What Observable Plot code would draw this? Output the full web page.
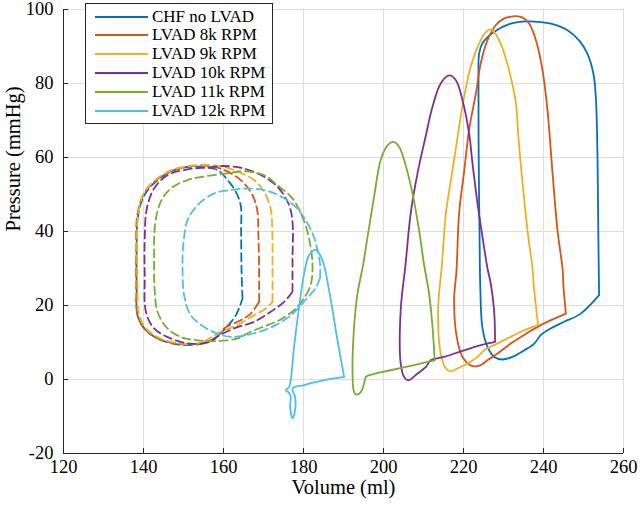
<!DOCTYPE html>
<html><head><meta charset="utf-8">
<script src="https://cdn.jsdelivr.net/npm/d3@7"></script>
<script src="https://cdn.jsdelivr.net/npm/@observablehq/plot@0.6"></script>
<style>
body{margin:0;background:#fff;}
#wrap{position:relative;width:640px;height:509px;font-family:'Liberation Serif','DejaVu Serif',serif;}
#legend{position:absolute;left:85px;top:3px;width:188px;height:121px;border:1px solid #262626;background:#fff;box-sizing:border-box;font-family:'Liberation Serif','DejaVu Serif',serif;}
.row{position:absolute;left:0;height:19px;display:flex;align-items:center;font-size:17px;color:#000;white-space:nowrap}
.sw{width:53px;height:0;border-top:2px solid;margin-left:9px;margin-right:4px}
</style></head><body><div id="wrap"></div>
<script>
// Series names and colours
const seriesNames = ["CHF no LVAD","LVAD 8k RPM","LVAD 9k RPM","LVAD 10k RPM","LVAD 11k RPM","LVAD 12k RPM"];
const seriesColors = ["#0072BD","#D95319","#EDB120","#7E2F8E","#77AC30","#4DBEEE"];
const xTicks = [120,140,160,180,200,220,240,260];
const yTicks = [-20,0,20,40,60,80,100];

// Solid loops: [Volume ml, Pressure mmHg]
const solidChf = [[253.9,22.8],[253.7,40],[253.5,60],[253.1,76],[252.5,82.5],[251,88],[249,91.5],[246,94.4],[242.5,96],[239.3,96.6],[236,96.8],[231.8,96.2],[227.6,93.9],[224.7,90.8],[223.9,88.1],[223.75,80],[223.8,60],[224,40],[224.2,25],[224.7,14.2],[226,8.8],[227.7,6.1],[229.75,5.4],[232.2,6.1],[235.2,7.9],[237.7,9.7],[239.3,12],[241.8,13.8],[245.2,15.6],[249.3,17.8],[253.9,22.8]];
const solid8k = [[245.6,17.8],[245,25],[244.75,30],[243.5,40.3],[242.2,56.6],[241.6,65],[241,72.8],[239.75,83.6],[238.1,91.7],[236.4,96.2],[234.8,97.8],[233.1,98.2],[231.5,98],[230.2,97.6],[228.1,95.8],[226,91.7],[224.3,85.4],[223.1,77.3],[221.8,70.1],[221.2,66],[220.2,56.6],[218.9,44.9],[218.25,29.5],[217.65,21.4],[218.3,11.5],[219.75,6.1],[222.25,3.6],[224.3,3.9],[226,5.2],[228.5,7],[231.8,9.7],[235.15,12],[239.3,14.7],[245.6,17.8]];
const solid9k = [[238.65,14.7],[237.6,25],[237.25,30],[236,40.3],[234.3,58.4],[233.7,66],[233.1,74.6],[231.4,83.6],[229.3,90.8],[227.65,93.9],[226.8,94.6],[225.6,93.9],[223.9,90.8],[221.8,84.5],[220.15,76.4],[218.9,68.3],[217.25,56.6],[215.6,44.9],[214.6,31],[213.65,18.8],[214.3,7],[215.6,3],[216.8,2.2],[218.5,3],[221,4.3],[223.5,6.1],[225.15,7.9],[227.65,9.3],[231,11.1],[235.15,13.3],[238.65,14.7]];
const solid10k = [[227.9,10.2],[227.65,18.7],[226.8,26],[226,30],[224.75,38.5],[223.5,47.6],[222.25,58.4],[221.4,66.5],[219.75,75.5],[218.1,80.9],[216.4,82.2],[214.3,80],[212.25,73.7],[210.6,66],[208.5,55.7],[206.8,44.9],[205.5,31],[204.3,18.8],[204.3,4.3],[205.15,0.7],[206.15,-0.2],[208.5,1.6],[210.6,3.4],[211.8,5.2],[215.15,6.1],[220.15,7.9],[224.3,9.3],[227.9,10.2]];
const solid11k = [[212.8,5.2],[212.25,14.2],[211.4,23.2],[210.15,31],[208.9,40.3],[207.25,50.3],[205.15,59.3],[203.9,62.9],[202.5,64.2],[201,63.3],[199.3,59.3],[197.65,49.4],[196,38.5],[194.9,31],[193.5,23.2],[192.65,14.2],[192.25,2.5],[192.65,-3.4],[193.3,-4.1],[194.3,-3.4],[195.15,-1.1],[195.6,0.7],[197.25,1.4],[201.8,2.5],[207.65,3.9],[212.8,5.2]];
const solid12k = [[190.15,0.7],[188.5,10.6],[186.4,24.1],[184.75,32.2],[183.1,35],[181.4,33.6],[180.15,28.6],[178.9,19.6],[177.65,8.8],[176.8,-0.2],[176.4,-2],[175.6,-2.9],[176.3,-3.5],[176.8,-4.7],[176.65,-7.4],[177.25,-10.5],[177.9,-8.3],[177.9,-4.7],[177.25,-2.4],[180.15,-1.5],[185.15,-0.2],[190.15,0.7]];

// Dashed loops: [Volume ml, Pressure mmHg]
const dashChf = [[164.75,21.9],[164.5,30],[164.4,40],[164.3,47.1],[163.1,50.7],[161.4,53.4],[158.5,56.6],[155.2,57.3],[151.8,57.5],[147.7,56.6],[143.5,53.9],[140.2,49.8],[138.6,44],[138.3,35],[138.3,25],[138.5,17.4],[140.2,13.8],[143.5,11.1],[148.5,9.5],[153.5,9.5],[156.8,10.5],[160.2,13.5],[163.1,17.4],[164.75,21.9]];
const dash8k = [[168.9,21],[168.9,30],[168.7,40],[168.5,45.3],[167.25,49.8],[164.3,53.9],[159.3,57],[155,57.8],[151.5,57.6],[147.5,56.6],[143.3,54],[140,50],[138.4,44],[138.2,35],[138.2,25],[138.5,17.4],[140.2,13.8],[143.5,11.1],[148.5,9.6],[153.5,9.7],[157.5,10.8],[160.15,13.8],[164.3,16],[166.8,17.8],[168.9,21]];
const dash9k = [[172.25,21],[172.25,30],[172.2,40],[171.8,46.2],[170.15,50.7],[167.65,53.9],[164,56],[160,57.5],[155.5,58],[151.5,57.7],[147.5,56.8],[143.3,54.2],[140,50.3],[138.6,44],[138.4,35],[138.5,25],[138.8,18],[140.5,14],[144,11.2],[149,9.8],[154,9.8],[159.3,12.9],[163.5,14.7],[167.65,17.4],[170.6,19.2],[172.25,21]];
const dash10k = [[177.25,23.7],[177.25,32],[177.25,42.6],[176.4,47.1],[173.9,51.6],[170.15,54.8],[165.15,57],[160,57.7],[156,57.3],[151,56.8],[146,55.2],[142.65,51.6],[140.8,46],[140.3,38],[140.3,28],[140.6,18.3],[142.65,13.8],[146.8,11.1],[151.8,9.7],[156.8,10.2],[158.5,11.6],[162.65,13.8],[167.65,15.6],[171.8,18.3],[175.15,21],[177.25,23.7]];
const dash11k = [[180.6,22.8],[181.8,25.5],[182.25,30.9],[181.4,38.1],[179.75,43.9],[177.25,48.9],[173.5,52.5],[170.15,55.2],[165,56.3],[161,55.7],[156,55],[151,53.9],[146.8,51.6],[144.3,48],[142.9,42],[142.65,32],[142.8,24],[143.5,18.3],[146,13.8],[149.3,11.5],[153.5,10.6],[158.5,10.4],[163.5,11.1],[166.8,12.9],[171,14.7],[174.75,16.5],[178.1,19.2],[180.6,22.8]];
const dash12k = [[184.15,27.5],[184.15,31],[183.5,35],[182.25,39.5],[180,44],[177.65,47],[174.3,49.5],[170.15,51.2],[165.15,51.6],[161.8,51.2],[157.65,50.3],[153.5,47.1],[151,43],[150,37],[149.75,30.9],[150.15,22.8],[151.8,17.4],[155.15,14.2],[158.5,12.4],[162,11.5],[167.65,12.5],[172.65,14.5],[177,17.5],[180.5,21.5],[183.2,25],[184.15,27.5]];

const solidLoops = [solidChf, solid8k, solid9k, solid10k, solid11k, solid12k];
const dashLoops = [dashChf, dash8k, dash9k, dash10k, dash11k, dash12k];

function rows(loops) {
  const out = [];
  loops.forEach((loop, i) => loop.forEach(([V, P]) => out.push({series: seriesNames[i], V, P})));
  return out;
}
const solidRows = rows(solidLoops);
const dashRows = rows(dashLoops);

const font = "'Liberation Serif','DejaVu Serif',serif";
const chart = Plot.plot({
  width: 640,
  height: 509,
  marginLeft: 63,
  marginRight: 17,
  marginTop: 9,
  marginBottom: 56,
  style: {fontFamily: font, fontSize: "18.5px", background: "#fff", color: "#000"},
  x: {domain: [120, 260], label: null},
  y: {domain: [-20, 100], label: null},
  color: {domain: seriesNames, range: seriesColors},
  marks: [
    Plot.gridX(xTicks, {stroke: "#dedede", strokeOpacity: 1}),
    Plot.gridY(yTicks, {stroke: "#dedede", strokeOpacity: 1}),
    Plot.line(dashRows, {x: "V", y: "P", z: "series", stroke: "series", strokeWidth: 1.8, strokeDasharray: "8,4.5", curve: "catmull-rom"}),
    Plot.line(solidRows, {x: "V", y: "P", z: "series", stroke: "series", strokeWidth: 1.8, curve: "catmull-rom"}),
    Plot.ruleX([120], {stroke: "#262626"}),
    Plot.ruleY([-20], {stroke: "#262626"}),
    Plot.axisX({ticks: xTicks, tickSize: -5, tickPadding: 11, tickFormat: d => String(d), label: null, stroke: "#262626", fill: "#000", fontSize: 18.5, fontFamily: font}),
    Plot.axisY({ticks: yTicks, tickSize: -5, tickPadding: 15, tickFormat: d => String(d), label: null, stroke: "#262626", fill: "#000", fontSize: 18.5, fontFamily: font}),
    Plot.text(["Volume (ml)"], {frameAnchor: "bottom", dy: 40, text: d => d, fontSize: 20.5, fill: "#000", fontFamily: font}),
    Plot.text(["Pressure (mmHg)"], {frameAnchor: "left", dx: -50, rotate: -90, text: d => d, fontSize: 20.5, fill: "#000", fontFamily: font})
  ]
});
const wrap = document.getElementById("wrap");
wrap.appendChild(chart);

const legend = document.createElement("div");
legend.id = "legend";
seriesNames.forEach((name, i) => {
  const row = document.createElement("div");
  row.className = "row";
  row.style.top = (3 + i * 18.9) + "px";
  const sw = document.createElement("span");
  sw.className = "sw";
  sw.style.borderTopColor = seriesColors[i];
  const t = document.createElement("span");
  t.textContent = name;
  row.appendChild(sw); row.appendChild(t);
  legend.appendChild(row);
});
wrap.appendChild(legend);
</script></body></html>
